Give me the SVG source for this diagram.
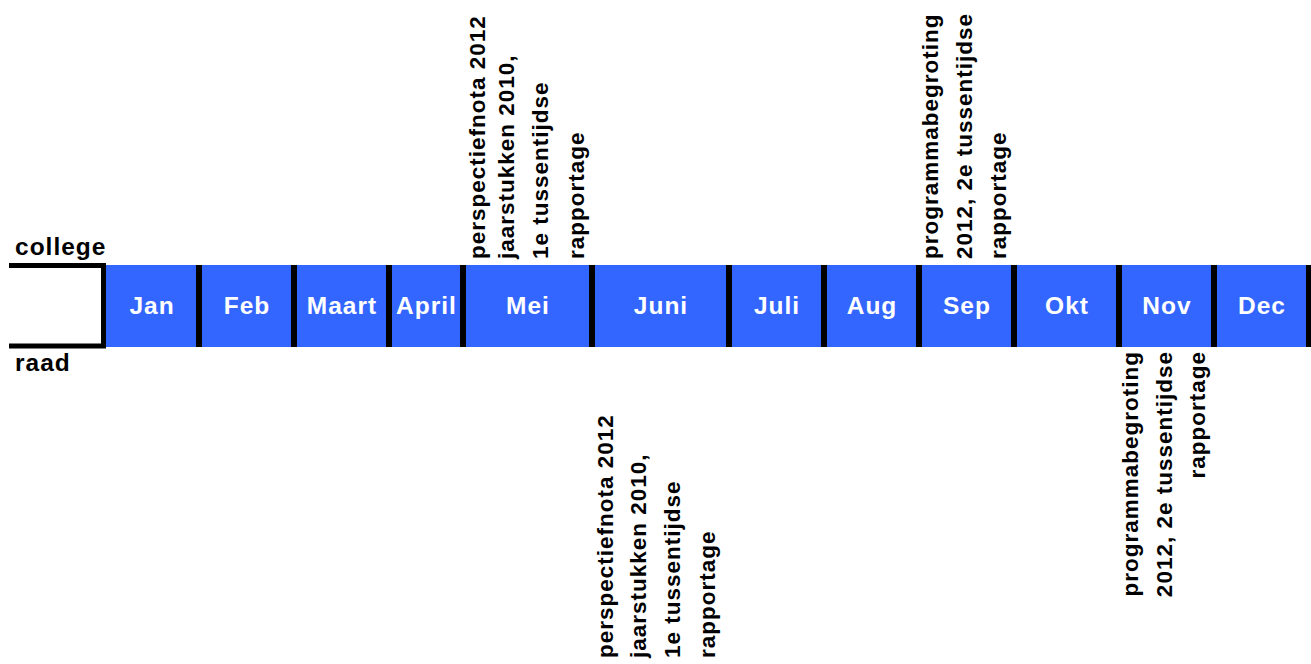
<svg xmlns="http://www.w3.org/2000/svg" width="1311" height="664" viewBox="0 0 1311 664">
<style>
.cell{fill:#3366FF}
.bar{fill:#000}
.m{font-family:"Liberation Sans",Arial,sans-serif;font-weight:bold;font-size:24.5px;letter-spacing:1px;fill:#fff;text-anchor:middle}
.lbl{font-family:"Liberation Sans",Arial,sans-serif;font-weight:bold;font-size:24.5px;letter-spacing:1px;fill:#000}
.r{font-family:"Liberation Sans",Arial,sans-serif;font-weight:bold;font-size:22.5px;letter-spacing:1px;fill:#000}
.e{text-anchor:end}
</style>
<rect width="1311" height="664" fill="#fff"/>
<g id="bracket">
<path d="M9 265.5H103.5V346H9" fill="none" stroke="#000" stroke-width="5"/>
<text class="lbl" x="15" y="255">college</text>
<text class="lbl" x="15" y="371">raad</text>
</g>
<g id="months">
<g id="jan"><rect class="cell" x="106" y="265" width="90" height="82"/><text class="m" x="152" y="314">Jan</text></g>
<g id="feb"><rect class="cell" x="202" y="265" width="89" height="82"/><text class="m" x="247" y="314">Feb</text></g>
<g id="maart"><rect class="cell" x="297" y="265" width="89" height="82"/><text class="m" x="342" y="314">Maart</text></g>
<g id="april"><rect class="cell" x="392" y="265" width="68" height="82"/><text class="m" x="426.5" y="314">April</text></g>
<g id="mei"><rect class="cell" x="466" y="265" width="123" height="82"/><text class="m" x="528" y="314">Mei</text></g>
<g id="juni"><rect class="cell" x="595" y="265" width="131" height="82"/><text class="m" x="661" y="314">Juni</text></g>
<g id="juli"><rect class="cell" x="732" y="265" width="89" height="82"/><text class="m" x="777" y="314">Juli</text></g>
<g id="aug"><rect class="cell" x="827" y="265" width="89" height="82"/><text class="m" x="872" y="314">Aug</text></g>
<g id="sep"><rect class="cell" x="922" y="265" width="89" height="82"/><text class="m" x="967" y="314">Sep</text></g>
<g id="okt"><rect class="cell" x="1017" y="265" width="99" height="82"/><text class="m" x="1067" y="314">Okt</text></g>
<g id="nov"><rect class="cell" x="1122" y="265" width="89" height="82"/><text class="m" x="1167" y="314">Nov</text></g>
<g id="dec"><rect class="cell" x="1217" y="265" width="89" height="82"/><text class="m" x="1262" y="314">Dec</text></g>
</g>
<g id="dividers">
<rect class="bar" x="196" y="265" width="6" height="82"/>
<rect class="bar" x="291" y="265" width="6" height="82"/>
<rect class="bar" x="386" y="265" width="6" height="82"/>
<rect class="bar" x="460" y="265" width="6" height="82"/>
<rect class="bar" x="589" y="265" width="6" height="82"/>
<rect class="bar" x="726" y="265" width="6" height="82"/>
<rect class="bar" x="821" y="265" width="6" height="82"/>
<rect class="bar" x="916" y="265" width="6" height="82"/>
<rect class="bar" x="1011" y="265" width="6" height="82"/>
<rect class="bar" x="1116" y="265" width="6" height="82"/>
<rect class="bar" x="1211" y="265" width="6" height="82"/>
<rect class="bar" x="1306" y="265" width="5" height="82"/>
</g>
<g id="college-mei">
<text class="r" transform="translate(485,259) rotate(-90)">perspectiefnota 2012</text>
<text class="r" transform="translate(514,259) rotate(-90)">jaarstukken 2010,</text>
<text class="r" transform="translate(548,259) rotate(-90)">1e tussentijdse</text>
<text class="r" transform="translate(584,259) rotate(-90)">rapportage</text>
</g>
<g id="college-sep">
<text class="r" transform="translate(938,259) rotate(-90)">programmabegroting</text>
<text class="r" transform="translate(972,259) rotate(-90)">2012, 2e tussentijdse</text>
<text class="r" transform="translate(1006,259) rotate(-90)">rapportage</text>
</g>
<g id="raad-juni">
<text class="r" transform="translate(613,658) rotate(-90)">perspectiefnota 2012</text>
<text class="r" transform="translate(646,658) rotate(-90)">jaarstukken 2010,</text>
<text class="r" transform="translate(680,658) rotate(-90)">1e tussentijdse</text>
<text class="r" transform="translate(715,658) rotate(-90)">rapportage</text>
</g>
<g id="raad-nov">
<text class="r e" transform="translate(1138,351) rotate(-90)">programmabegroting</text>
<text class="r e" transform="translate(1172,351) rotate(-90)">2012, 2e tussentijdse</text>
<text class="r e" transform="translate(1205,351) rotate(-90)">rapportage</text>
</g>
</svg>
